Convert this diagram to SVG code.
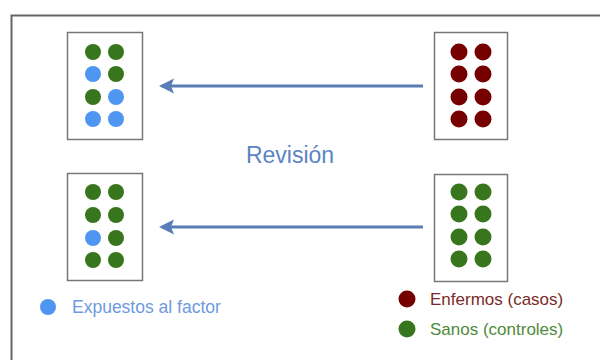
<svg xmlns="http://www.w3.org/2000/svg" width="600" height="360" viewBox="0 0 600 360">
<style>
.box{fill:#fff;stroke:#777;stroke-width:1.5}
.g{fill:#38761d}
.b{fill:#4f96f2}
.r{fill:#760000}
.arrow{stroke:#5a7db6;stroke-width:3;fill:none}
.t{font-family:"Liberation Sans",Arial,sans-serif}
</style>
<defs>
<marker id="ah" markerWidth="6" markerHeight="6" refX="4" refY="3" orient="auto" markerUnits="strokeWidth">
<path d="M5,3 L0,0.5 L1,3 L0,5.5 Z" fill="#5a7db6"/>
</marker>
</defs>
<rect x="0" y="0" width="600" height="360" fill="#fff"/>
<path d="M11.5,360 V15.5 H600" fill="none" stroke="#666" stroke-width="2"/>
<g id="group-tl">
<rect class="box" x="67.5" y="32.5" width="75" height="107"/>
<circle class="g" cx="93" cy="52" r="8"/><circle class="g" cx="116" cy="52" r="8"/>
<circle class="b" cx="93" cy="74" r="8"/><circle class="g" cx="116" cy="74" r="8"/>
<circle class="g" cx="93" cy="97" r="8"/><circle class="b" cx="116" cy="97" r="8"/>
<circle class="b" cx="93" cy="119" r="8"/><circle class="b" cx="116" cy="119" r="8"/>
</g>
<g id="group-tr">
<rect class="box" x="434.5" y="32.5" width="73" height="107"/>
<circle class="r" cx="459" cy="52" r="8.5"/><circle class="r" cx="483" cy="52" r="8.5"/>
<circle class="r" cx="459" cy="74" r="8.5"/><circle class="r" cx="483" cy="74" r="8.5"/>
<circle class="r" cx="459" cy="97" r="8.5"/><circle class="r" cx="483" cy="97" r="8.5"/>
<circle class="r" cx="459" cy="119" r="8.5"/><circle class="r" cx="483" cy="119" r="8.5"/>
</g>
<g id="group-bl">
<rect class="box" x="67.5" y="173.5" width="75" height="107"/>
<circle class="g" cx="93" cy="192" r="8"/><circle class="g" cx="116" cy="192" r="8"/>
<circle class="g" cx="93" cy="215" r="8"/><circle class="g" cx="116" cy="215" r="8"/>
<circle class="b" cx="93" cy="238" r="8"/><circle class="g" cx="116" cy="238" r="8"/>
<circle class="g" cx="93" cy="260" r="8"/><circle class="g" cx="116" cy="260" r="8"/>
</g>
<g id="group-br">
<rect class="box" x="434.5" y="174.5" width="73" height="107"/>
<circle class="g" cx="459" cy="192" r="8.5"/><circle class="g" cx="483" cy="192" r="8.5"/>
<circle class="g" cx="459" cy="214" r="8.5"/><circle class="g" cx="483" cy="214" r="8.5"/>
<circle class="g" cx="459" cy="237" r="8.5"/><circle class="g" cx="483" cy="237" r="8.5"/>
<circle class="g" cx="459" cy="259" r="8.5"/><circle class="g" cx="483" cy="259" r="8.5"/>
</g>
<g id="connectors">
<line class="arrow" x1="423" y1="86" x2="162" y2="86" marker-end="url(#ah)"/>
<line class="arrow" x1="423" y1="227" x2="162" y2="227" marker-end="url(#ah)"/>
</g>
<g id="label-revision">
<text class="t" x="290" y="163" font-size="23" fill="#5b84c4" text-anchor="middle">Revisión</text>
</g>
<g id="legend">
<circle class="b" cx="48" cy="307" r="8"/>
<text class="t" x="72" y="313" font-size="17.5" fill="#6d9ae0">Expuestos al factor</text>
<circle class="r" cx="407" cy="299" r="8.5"/>
<text class="t" x="430" y="305" font-size="17" fill="#7a2a2a">Enfermos (casos)</text>
<circle class="g" cx="407" cy="329" r="8.5"/>
<text class="t" x="430" y="335" font-size="17" fill="#4e8a3a">Sanos (controles)</text>
</g>
</svg>
